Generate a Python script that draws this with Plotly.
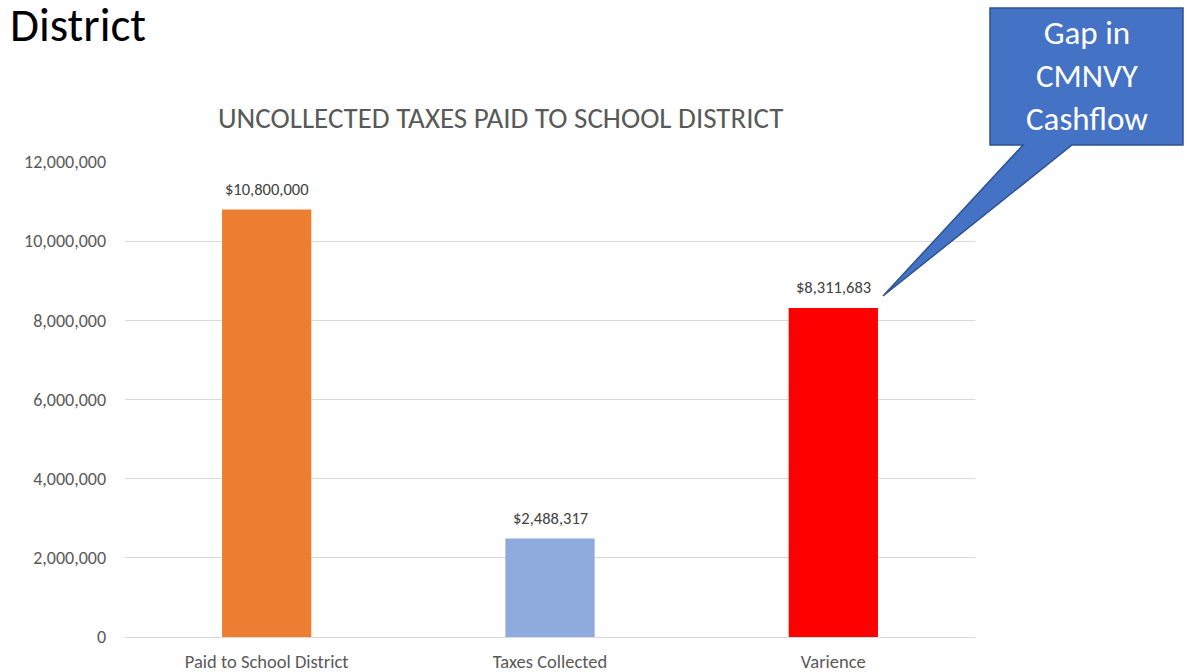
import plotly.graph_objects as go

categories = ["Paid to School District", "Taxes Collected", "Varience"]
values = [10800000, 2488317, 8311683]
colors = ["#ED7D31", "#8FAADC", "#FF0000"]
tick_vals = [0, 2000000, 4000000, 6000000, 8000000, 10000000, 12000000]

FONT = "Carlito, Calibri, Lato, 'Open Sans', sans-serif"
W, H = 1188, 672
L, R, T, B = 125, 213, 162, 35
pw, ph = W - L - R, H - T - B

def px(x):
    return (x - L) / pw

def py(y):
    return (H - B - y) / ph

fig = go.Figure()
fig.add_trace(go.Bar(
    x=categories, y=values, marker=dict(color=colors, line=dict(width=0)),
    width=0.315, showlegend=False, hoverinfo="skip",
))

for c, v in zip(categories, values):
    fig.add_annotation(x=c, y=v, xref="x", yref="y", text=f"${v:,.0f}",
                       showarrow=False, yanchor="bottom", yshift=9,
                       font=dict(family=FONT, size=16.5, color="#404040"))

path = (f"M {px(990)},{py(8)} L {px(1183)},{py(8)} L {px(1183)},{py(145)} "
        f"L {px(1072)},{py(145)} L {px(883)},{py(296)} L {px(1023)},{py(145)} "
        f"L {px(990)},{py(145)} Z")
fig.add_shape(type="path", path=path, xref="paper", yref="paper",
              fillcolor="#4472C4", line=dict(color="#2F528F", width=1.5), layer="above")

fig.add_annotation(text="Gap in<br>CMNVY<br>Cashflow", xref="paper", yref="paper",
                   x=px(1087), y=py(76), xanchor="center", yanchor="middle",
                   showarrow=False, font=dict(family=FONT, size=33, color="white"))
fig.add_annotation(text="District", xref="paper", yref="paper",
                   x=px(8), y=py(25), xanchor="left", yanchor="middle",
                   showarrow=False, font=dict(family=FONT, size=47, color="black"))
fig.add_annotation(text="UNCOLLECTED TAXES PAID TO SCHOOL DISTRICT", xref="paper", yref="paper",
                   x=px(500), y=py(118), xanchor="center", yanchor="middle",
                   showarrow=False, font=dict(family=FONT, size=29, color="#595959"))

fig.update_layout(
    width=W, height=H, margin=dict(l=L, r=R, t=T, b=B, autoexpand=False),
    paper_bgcolor="white", plot_bgcolor="white",
    font=dict(family=FONT, color="#595959", size=16),
    bargap=0.685,
)
fig.update_yaxes(range=[0, 12000000], tickvals=tick_vals, tickformat=",",
                 showgrid=True, gridcolor="#D9D9D9", gridwidth=1, zeroline=False,
                 showline=False, ticks="", ticklabelstandoff=18, automargin=False,
                 tickfont=dict(family=FONT, size=18, color="#595959"))
fig.update_xaxes(showline=True, linecolor="#D9D9D9", linewidth=1, ticks="",
                 ticklabelstandoff=8, automargin=False,
                 tickfont=dict(family=FONT, size=18.5, color="#595959"))

fig.write_html("out.html", config={"displayModeBar": False},
               post_script="document.body.style.margin='0';document.body.style.overflow='hidden';")
